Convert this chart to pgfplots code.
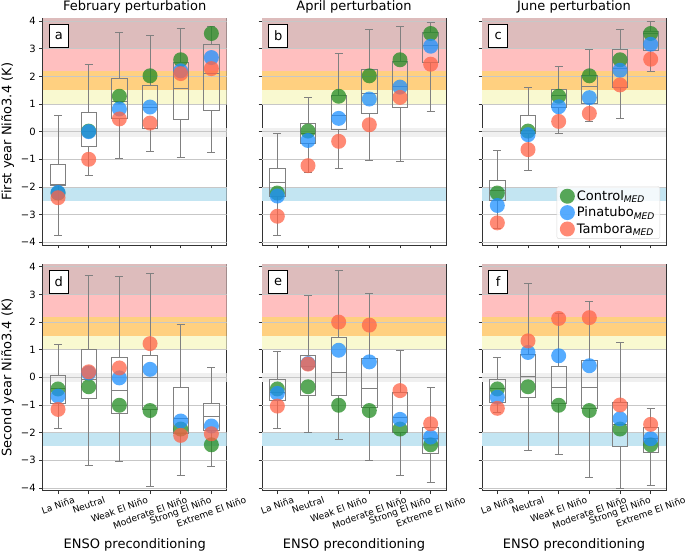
\documentclass[border=0pt]{standalone}
\usepackage{fontspec}
\setmainfont{DejaVu Sans}
\usepackage{graphicx}
\usepackage{pgfplots}
\pgfplotsset{compat=1.18}
\usepgfplotslibrary{statistics}

\definecolor{bandtop}{RGB}{221,188,188}
\definecolor{bandpink}{RGB}{255,191,191}
\definecolor{bandorange}{RGB}{255,208,128}
\definecolor{bandyellow}{RGB}{249,249,208}
\definecolor{bandgray}{RGB}{240,240,240}
\definecolor{bandblue}{RGB}{195,229,242}
\definecolor{cgreen}{RGB}{34,139,34}
\definecolor{cblue}{RGB}{30,144,255}
\definecolor{cred}{RGB}{255,99,71}

\tikzset{panellab/.style={draw=black, fill=white, line width=0.8pt, minimum width=19pt, minimum height=23pt, inner sep=0pt, anchor=north west, font=\fontsize{13}{15}\selectfont}}

\pgfplotsset{
  panel/.style={
    scale only axis, width=184pt, height=226.7pt, anchor=south west,
    xmin=-0.5, xmax=5.5, ymin=-4.1, ymax=4.1,
    xtick={0,...,5}, ytick={-4,...,4},
    yticklabels={−4,−3,−2,−1,0,1,2,3,4},
    tick align=outside, tick pos=left,
    major tick length=3.5pt,
    major tick style={black!80, line width=0.8pt},
    axis line style={black!80, line width=0.8pt},
    tick label style={font=\fontsize{10}{12}\selectfont},
    title style={font=\fontsize{13}{15}\selectfont, yshift=-4pt},
    label style={font=\fontsize{13}{15}\selectfont},
    clip=true,
  },
  toprow/.style={xticklabels={}},
  botrow/.style={
    xticklabels={\rotatebox{20}{La Niña},\rotatebox{20}{Neutral},\rotatebox{20}{Weak El Niño},\rotatebox{20}{Moderate El Niño},\rotatebox{20}{Strong El Niño},\rotatebox{20}{Extreme El Niño}},
    xticklabel style={font=\fontsize{9.1}{11}\selectfont, anchor=north, inner sep=1.5pt},
    xlabel={ENSO preconditioning},
    xlabel style={yshift=-4.5pt},
  },
  noylab/.style={yticklabels={}},
  gridl/.style={black!22, line width=0.8pt},
  dot/.style={only marks, mark=*, mark size=7.5pt, mark options={fill=#1, fill opacity=0.75, draw opacity=0}},
  boxst/.style={draw=black!50, line width=1pt, solid, boxplot/draw direction=y, boxplot/box extend=0.5, boxplot/whisker extend=0.26},
}

\newcommand\band[3]{\addplot[fill=#1, draw=none, forget plot] coordinates {(-0.5,#2) (5.5,#2) (5.5,#3) (-0.5,#3)};}
\newcommand\bands{%
  \band{bandtop}{3}{4.1}
  \band{bandpink}{2.2}{3}
  \band{bandorange}{1.5}{2.2}
  \band{bandyellow}{1}{1.5}
  \band{bandgray}{-0.18}{0.14}
  \band{bandblue}{-2.5}{-2}
  \pgfplotsinvokeforeach{-4,...,4}{\addplot[gridl, forget plot] coordinates {(-0.5,##1) (5.5,##1)};}%
}
\newcommand\bx[6]{\addplot[boxst, forget plot, boxplot prepared={draw position=#1, lower whisker=#2, lower quartile=#3, median=#4, upper quartile=#5, upper whisker=#6}] coordinates {};}

\begin{document}
\begin{tikzpicture}
\path[use as bounding box] (0,0) rectangle (685pt,551pt);

% ---------------- a
\begin{axis}[panel, toprow, at={(42.7pt,306pt)}, title={February perturbation}, ylabel={First year Niño3.4 (K)}]
\bands
\addplot[dot=cgreen] coordinates {(0,-2.22) (1,0.02) (2,1.28) (3,2.02) (4,2.6) (5,3.55)};
\addplot[dot=cblue] coordinates {(0,-2.2) (1,0.0) (2,0.82) (3,0.89) (4,2.2) (5,2.68)};
\addplot[dot=cred] coordinates {(0,-2.39) (1,-1.0) (2,0.46) (3,0.31) (4,2.1) (5,2.28)};
\bx{0}{-3.77}{-1.95}{-1.9}{-1.2}{0.57}
\bx{1}{-1.59}{-0.54}{0.0}{0.7}{2.43}
\bx{2}{-0.98}{0.48}{1.1}{1.92}{3.6}
\bx{3}{-0.72}{0.12}{0.88}{1.68}{3.48}
\bx{4}{-0.95}{0.45}{1.57}{2.5}{3.74}
\bx{5}{-0.76}{0.76}{2.1}{3.16}{3.82}
\node[panellab] at (rel axis cs:0.034,0.975) {a};
\end{axis}

% ---------------- b
\begin{axis}[panel, toprow, noylab, at={(262pt,306pt)}, title={April perturbation}]
\bands
\addplot[dot=cgreen] coordinates {(0,-2.22) (1,0.02) (2,1.28) (3,2.02) (4,2.6) (5,3.55)};
\addplot[dot=cblue] coordinates {(0,-2.33) (1,-0.32) (2,0.48) (3,1.18) (4,1.61) (5,3.09)};
\addplot[dot=cred] coordinates {(0,-3.06) (1,-1.23) (2,-0.35) (3,0.25) (4,1.24) (5,2.44)};
\bx{0}{-3.77}{-2.35}{-1.83}{-1.32}{-0.05}
\bx{1}{-1.47}{-0.44}{-0.08}{0.31}{1.24}
\bx{2}{-1.35}{0.07}{0.6}{1.3}{2.82}
\bx{3}{-1.06}{0.65}{1.38}{2.26}{3.68}
\bx{4}{-1.08}{0.88}{1.63}{2.52}{3.8}
\bx{5}{0.72}{2.49}{3.1}{3.6}{3.94}
\node[panellab] at (rel axis cs:0.034,0.975) {b};
\end{axis}

% ---------------- c
\begin{axis}[panel, toprow, noylab, at={(482pt,306pt)}, title={June perturbation},
  legend style={at={(0.968,0.027)}, anchor=south east, draw=black!15, rounded corners=2pt, fill=white, fill opacity=0.8, text opacity=1, font=\fontsize{13}{15}\selectfont, inner xsep=3pt, inner ysep=2pt, row sep=1pt, cells={anchor=west}},
  legend image code/.code={\draw[mark repeat=2,mark phase=2,#1] plot coordinates {(0pt,0pt) (12pt,0pt) (27pt,0pt)};}]
\bands
\addplot[dot=cgreen] coordinates {(0,-2.22) (1,0.02) (2,1.28) (3,2.02) (4,2.6) (5,3.55)};
\addlegendentry{Control\textsubscript{\textit{MED}}}
\addplot[dot=cblue] coordinates {(0,-2.67) (1,-0.11) (2,0.9) (3,1.23) (4,2.22) (5,3.16)};
\addlegendentry{Pinatubo\textsubscript{\textit{MED}}}
\addplot[dot=cred] coordinates {(0,-3.3) (1,-0.65) (2,0.37) (3,0.66) (4,1.69) (5,2.62)};
\addlegendentry{Tambora\textsubscript{\textit{MED}}}
\bx{0}{-3.5}{-2.49}{-2.13}{-1.77}{-0.68}
\bx{1}{-1.4}{-0.08}{0.04}{0.59}{1.6}
\bx{2}{-0.08}{0.88}{1.3}{1.51}{2.34}
\bx{3}{0.37}{1.02}{1.62}{2.02}{2.98}
\bx{4}{0.46}{1.6}{2.3}{2.98}{3.68}
\bx{5}{2.16}{2.92}{3.54}{3.64}{3.98}
\node[panellab] at (rel axis cs:0.034,0.975) {c};
\end{axis}

% ---------------- d
\begin{axis}[panel, botrow, at={(42.7pt,60.3pt)}, ylabel={Second year Niño3.4 (K)}]
\bands
\addplot[dot=cgreen] coordinates {(0,-0.42) (1,-0.34) (2,-1.01) (3,-1.2) (4,-1.87) (5,-2.44)};
\addplot[dot=cblue] coordinates {(0,-0.68) (1,0.16) (2,-0.02) (3,0.29) (4,-1.58) (5,-1.76)};
\addplot[dot=cred] coordinates {(0,-1.16) (1,0.2) (2,0.34) (3,1.22) (4,-2.1) (5,-2.04)};
\bx{0}{-1.86}{-0.94}{-0.4}{0.05}{1.18}
\bx{1}{-3.2}{-0.78}{-0.08}{1.02}{3.69}
\bx{2}{-3.06}{-1.32}{-0.48}{0.72}{3.63}
\bx{3}{-3.96}{-1.17}{0.0}{0.8}{3.74}
\bx{4}{-3.56}{-2.04}{-1.5}{-0.36}{1.92}
\bx{5}{-3.24}{-1.92}{-1.41}{-0.94}{0.34}
\node[panellab] at (rel axis cs:0.034,0.975) {d};
\end{axis}

% ---------------- e
\begin{axis}[panel, botrow, noylab, at={(262pt,60.3pt)}]
\bands
\addplot[dot=cgreen] coordinates {(0,-0.42) (1,-0.34) (2,-1.01) (3,-1.2) (4,-1.87) (5,-2.44)};
\addplot[dot=cblue] coordinates {(0,-0.58) (1,0.5) (2,0.98) (3,0.56) (4,-1.52) (5,-2.16)};
\addplot[dot=cred] coordinates {(0,-1.04) (1,0.48) (2,2.0) (3,1.89) (4,-0.48) (5,-1.68)};
\bx{0}{-1.86}{-0.82}{-0.54}{-0.08}{0.92}
\bx{1}{-2.01}{-0.64}{0.38}{0.8}{2.97}
\bx{2}{-2.24}{-0.66}{0.16}{1.44}{3.86}
\bx{3}{-3.0}{-1.08}{-0.4}{0.68}{3.03}
\bx{4}{-3.56}{-1.98}{-1.44}{-0.56}{0.96}
\bx{5}{-3.8}{-2.76}{-2.2}{-1.82}{-0.36}
\node[panellab] at (rel axis cs:0.034,0.975) {e};
\end{axis}

% ---------------- f
\begin{axis}[panel, botrow, noylab, at={(482pt,60.3pt)}]
\bands
\addplot[dot=cgreen] coordinates {(0,-0.42) (1,-0.34) (2,-1.01) (3,-1.2) (4,-1.87) (5,-2.44)};
\addplot[dot=cblue] coordinates {(0,-0.72) (1,0.9) (2,0.78) (3,0.42) (4,-1.5) (5,-2.22)};
\addplot[dot=cred] coordinates {(0,-1.12) (1,1.32) (2,2.13) (3,2.16) (4,-1.0) (5,-1.7)};
\bx{0}{-1.26}{-0.9}{-0.4}{-0.06}{0.7}
\bx{1}{-2.66}{-0.72}{0.04}{0.82}{3.39}
\bx{2}{-2.79}{-0.96}{-0.36}{0.38}{2.31}
\bx{3}{-3.62}{-1.14}{-0.36}{0.62}{2.76}
\bx{4}{-4.02}{-2.49}{-1.7}{-0.9}{1.26}
\bx{5}{-3.92}{-2.72}{-2.2}{-1.8}{-1.14}
\node[panellab] at (rel axis cs:0.034,0.975) {f};
\end{axis}
\end{tikzpicture}
\end{document}
